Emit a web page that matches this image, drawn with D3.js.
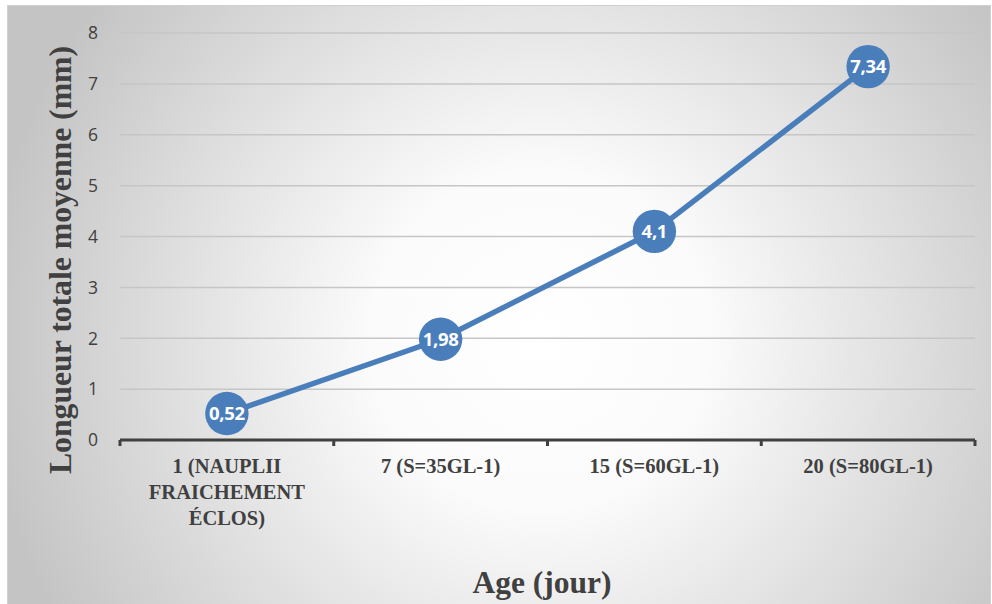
<!DOCTYPE html>
<html><head><meta charset="utf-8">
<script src="https://cdn.jsdelivr.net/npm/d3@7"></script>
<style>body{margin:0;background:#fff}svg{display:block}</style>
</head><body>
<svg id="c" width="992" height="604"></svg>
<script>
const categories = [["1 (NAUPLII","FRAICHEMENT","ÉCLOS)"],["7 (S=35GL-1)"],["15 (S=60GL-1)"],["20 (S=80GL-1)"]];
const values = [0.52, 1.98, 4.1, 7.34];
const valueLabels = ["0,52","1,98","4,1","7,34"];
const yTicks = [0,1,2,3,4,5,6,7,8];

const svg = d3.select("#c");
const defs = svg.append("defs");
const g = defs.append("radialGradient").attr("id","bg").attr("gradientUnits","userSpaceOnUse")
  .attr("cx",540).attr("cy",340).attr("r",560);
g.append("stop").attr("offset","0").attr("stop-color","#ffffff");
g.append("stop").attr("offset","0.3").attr("stop-color","#fbfbfb");
g.append("stop").attr("offset","1").attr("stop-color","#c4c4c4");
svg.append("rect").attr("x",7.5).attr("y",5.5).attr("width",983).attr("height",600)
  .attr("fill","url(#bg)").attr("stroke","#d0d0d0");

const x = d3.scaleBand().domain(d3.range(categories.length)).range([120,975]);
const y = d3.scaleLinear().domain([0,8]).range([440,33]);

svg.append("g").selectAll("line").data(yTicks.filter(d=>d>0)).join("line")
  .attr("x1",120).attr("x2",975).attr("y1",d=>y(d)).attr("y2",d=>y(d))
  .attr("stroke","#c6c6c6").attr("stroke-width",1.5);

svg.append("g").selectAll("text").data(yTicks).join("text")
  .attr("x",98).attr("y",d=>y(d)).attr("dy","0.36em").attr("text-anchor","end")
  .attr("font-family","Open Sans, sans-serif").attr("font-size",17.5).attr("fill","#404040")
  .text(d=>d);

const ax = svg.append("g");
ax.append("line").attr("x1",120).attr("x2",975).attr("y1",440).attr("y2",440)
  .attr("stroke","#404040").attr("stroke-width",3);
const tickPos = d3.range(categories.length).map(i=>x(i)).concat([x.range()[1]]);
ax.selectAll("line.t").data(tickPos).join("line").attr("class","t")
  .attr("x1",d=>d).attr("x2",d=>d).attr("y1",440).attr("y2",446)
  .attr("stroke","#404040").attr("stroke-width",3);

const xl = svg.append("g").selectAll("text").data(categories).join("text")
  .attr("x",(d,i)=>x(i)+x.bandwidth()/2).attr("y",473).attr("text-anchor","middle")
  .attr("font-family","Liberation Serif, Times New Roman, serif").attr("font-weight","bold")
  .attr("font-size",20.5).attr("fill","#404040");
xl.each(function(d){
  d3.select(this).selectAll("tspan").data(d).join("tspan")
    .attr("x",d3.select(this).attr("x")).attr("dy",(t,i)=>i?26:0).text(t=>t);
});

const line = d3.line().x((d,i)=>x(i)+x.bandwidth()/2).y(d=>y(d));
svg.append("path").datum(values).attr("d",line).attr("fill","none")
  .attr("stroke","#4a7ebb").attr("stroke-width",5.5).attr("stroke-linejoin","round");

svg.append("g").selectAll("circle").data(values).join("circle")
  .attr("cx",(d,i)=>x(i)+x.bandwidth()/2).attr("cy",d=>y(d)).attr("r",21.7)
  .attr("fill","#4a7ebb");

svg.append("g").selectAll("text").data(values).join("text")
  .attr("x",(d,i)=>x(i)+x.bandwidth()/2).attr("y",d=>y(d)).attr("dy","0.36em")
  .attr("text-anchor","middle").attr("font-family","Open Sans, sans-serif").attr("font-weight","bold")
  .attr("font-size",18.5).attr("letter-spacing",-0.3).attr("fill","#fff").text((d,i)=>valueLabels[i]);

svg.append("text").attr("x",542).attr("y",593).attr("text-anchor","middle")
  .attr("font-family","Liberation Serif, Times New Roman, serif").attr("font-weight","bold")
  .attr("font-size",31.5).attr("fill","#404040").text("Age (jour)");
svg.append("text").attr("transform","translate(71,260) rotate(-90)").attr("text-anchor","middle")
  .attr("font-family","Liberation Serif, Times New Roman, serif").attr("font-weight","bold")
  .attr("font-size",31.7).attr("fill","#404040").text("Longueur totale moyenne (mm)");
</script>
</body></html>
